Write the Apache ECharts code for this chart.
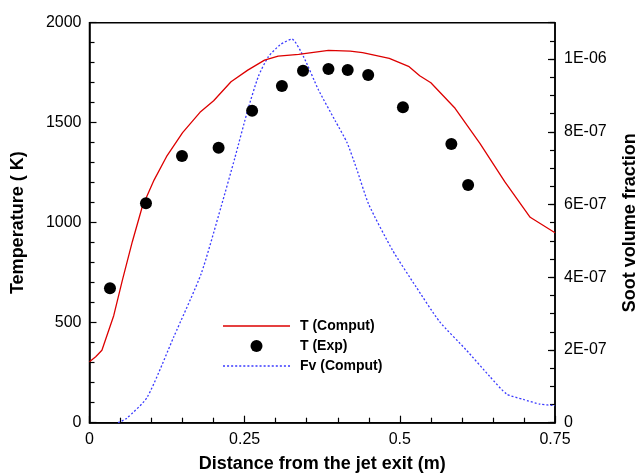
<!DOCTYPE html>
<html>
<head>
<meta charset="utf-8">
<script src="https://cdn.jsdelivr.net/npm/echarts@6/dist/echarts.min.js"></script>
<style>
  html, body { margin: 0; padding: 0; background: #fff; }
  #chart { width: 640px; height: 474px; }
</style>
</head>
<body>
<div id="chart"></div>
<script>
// computed temperature along the axis (x in m, T in K)
const tCompX = [0, 0.01, 0.02, 0.039, 0.053, 0.069, 0.085, 0.104, 0.124, 0.15, 0.178, 0.2, 0.228, 0.255, 0.282, 0.304, 0.337, 0.385, 0.42, 0.44, 0.483, 0.515, 0.532, 0.55, 0.589, 0.629, 0.669, 0.71, 0.75]
const tCompY = [305, 330, 362, 535, 713, 905, 1080, 1213, 1330, 1450, 1552, 1610, 1705, 1763, 1813, 1833, 1842, 1862, 1858, 1850, 1822, 1780, 1735, 1700, 1572, 1397, 1205, 1027, 950]

// measured temperature
const tExpX = [0.033, 0.091, 0.149, 0.208, 0.262, 0.31, 0.344, 0.385, 0.416, 0.449, 0.505, 0.583, 0.61]
const tExpY = [672, 1097, 1333, 1375, 1560, 1683, 1760, 1768, 1763, 1738, 1577, 1393, 1188]

// computed soot volume fraction (units of 1E-06)
const fvX = [0.046, 0.06, 0.093, 0.136, 0.18, 0.212, 0.234, 0.255, 0.272, 0.288, 0.307, 0.326, 0.345, 0.369, 0.396, 0.415, 0.43, 0.45, 0.488, 0.526, 0.564, 0.607, 0.645, 0.672, 0.699, 0.726, 0.75]
const fvY = [0, 0.012, 0.07, 0.237, 0.41, 0.594, 0.727, 0.86, 0.952, 1.006, 1.039, 1.055, 1.006, 0.915, 0.83, 0.77, 0.7, 0.6, 0.475, 0.374, 0.278, 0.2, 0.127, 0.079, 0.064, 0.051, 0.047]

const font = "'Liberation Sans', Arial, sans-serif"

const sciLabel = v => {
  if (v === 0) return '0'
  if (v > 1.0001e-6) return ''
  const [m, e] = v.toExponential(0).split('e')
  const n = Math.abs(parseInt(e, 10))
  return m + 'E-' + (n < 10 ? '0' + n : n)
}

// legend icons: solid bar and dotted bar
const solidIcon = 'path://M0,0H67V1.4H0Z'
let dots = ''
for (let x = 0; x < 67; x += 4) dots += 'M' + x + ',0H' + (x + 2) + 'V1.4H' + x + 'Z'
const dottedIcon = 'path://' + dots

const chart = echarts.init(document.getElementById('chart'))

const option = {
  animation: false,
  textStyle: { fontFamily: font },
  grid: {
    left: 89.5, right: 85, top: 22.7, bottom: 51.3,
    outerBoundsMode: 'none',
    containLabel: false,
    show: true, borderColor: '#000', borderWidth: 1.5,
  },
  legend: {
    orient: 'vertical',
    left: 218,
    top: 314,
    itemWidth: 67,
    itemHeight: 12,
    itemGap: 6,
    textStyle: { fontFamily: font, fontSize: 14, fontWeight: 'bold', color: '#000', padding: [0, 0, 0, 5] },
    data: [
      { name: 'T (Comput)', icon: solidIcon },
      { name: 'T (Exp)', icon: 'circle' },
      { name: 'Fv (Comput)', icon: dottedIcon },
    ],
  },
  xAxis: {
    type: 'value',
    min: 0, max: 0.75, interval: 0.25,
    name: 'Distance from the jet exit (m)',
    nameLocation: 'middle',
    nameGap: 32,
    nameTextStyle: { fontFamily: font, fontSize: 18, fontWeight: 'bold', color: '#000' },
    axisLine: { lineStyle: { color: '#000', width: 1.5 } },
    axisTick: { inside: true, length: 7, lineStyle: { color: '#000', width: 1.2 } },
    minorTick: { show: true, splitNumber: 5, length: 5, lineStyle: { color: '#000', width: 1.2 } },
    axisLabel: { fontFamily: font, fontSize: 16, color: '#000', margin: 9, formatter: v => String(v) },
    splitLine: { show: false },
  },
  yAxis: [
    {
      type: 'value',
      min: 0, max: 2000, interval: 500,
      name: 'Temperature ( K)',
      nameLocation: 'middle',
      nameGap: 62,
      nameTextStyle: { fontFamily: font, fontSize: 18, fontWeight: 'bold', color: '#000' },
      axisLine: { show: true, lineStyle: { color: '#000', width: 1.5 } },
      axisTick: { show: true, inside: true, length: 7, lineStyle: { color: '#000', width: 1.2 } },
      minorTick: { show: true, splitNumber: 5, length: 5, lineStyle: { color: '#000', width: 1.2 } },
      axisLabel: { fontFamily: font, fontSize: 16, color: '#000', margin: 8, formatter: v => String(v) },
      splitLine: { show: false },
    },
    {
      type: 'value',
      position: 'right',
      min: 0, max: 1.1e-6, interval: 2e-7,
      name: 'Soot volume fraction',
      nameLocation: 'middle',
      nameGap: 66,
      nameRotate: 90,
      nameTextStyle: { fontFamily: font, fontSize: 18, fontWeight: 'bold', color: '#000' },
      axisLine: { show: true, lineStyle: { color: '#000', width: 1.5 } },
      axisTick: { show: true, inside: true, length: 7, lineStyle: { color: '#000', width: 1.2 } },
      axisLabel: { fontFamily: font, fontSize: 16, color: '#000', margin: 9, formatter: sciLabel },
      splitLine: { show: false },
    },
    {
      // minor ticks of the right axis
      type: 'value',
      position: 'right',
      min: 0, max: 1.1e-6, interval: 5e-8,
      axisLine: { show: false },
      axisTick: { show: true, inside: true, length: 5, lineStyle: { color: '#000', width: 1.2 } },
      axisLabel: { show: false },
      splitLine: { show: false },
    },
  ],
  series: [
    {
      name: 'T (Comput)',
      type: 'line',
      yAxisIndex: 0,
      symbol: 'none',
      lineStyle: { color: '#dd0000', width: 1.3 },
      itemStyle: { color: '#dd0000' },
      data: tCompX.map((x, i) => [x, tCompY[i]]),
      z: 3,
    },
    {
      name: 'T (Exp)',
      type: 'scatter',
      yAxisIndex: 0,
      symbol: 'circle',
      symbolSize: 12,
      itemStyle: { color: '#000', opacity: 1 },
      data: tExpX.map((x, i) => [x, tExpY[i]]),
      z: 4,
    },
    {
      name: 'Fv (Comput)',
      type: 'line',
      yAxisIndex: 1,
      symbol: 'none',
      smooth: 0.2,
      lineStyle: { color: '#3a3aff', width: 1.3, type: [2, 2] },
      itemStyle: { color: '#3a3aff' },
      data: fvX.map((x, i) => [x, fvY[i] * 1e-6]),
      z: 2,
    },
  ],
}

chart.setOption(option)
</script>
</body>
</html>
